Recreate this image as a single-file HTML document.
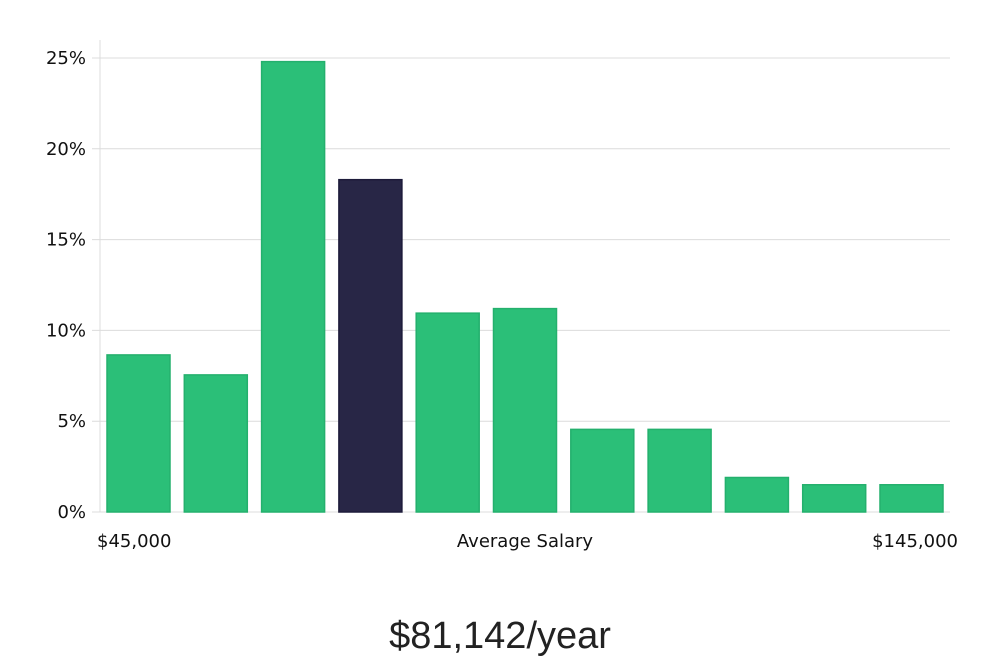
<!DOCTYPE html>
<html><head><meta charset="utf-8"><style>
body{margin:0;background:#fff;width:1000px;height:660px;overflow:hidden;font-family:"DejaVu Sans","Liberation Sans",sans-serif;}
</style></head><body>
<svg id="chart" width="1000" height="660" xmlns="http://www.w3.org/2000/svg"></svg>
<script>
const categories=["b1","b2","b3","b4","b5","b6","b7","b8","b9","b10","b11"];
const values=[8.65,7.55,24.8,18.3,10.95,11.2,4.55,4.55,1.9,1.5,1.5];
const highlight=[false,false,false,true,false,false,false,false,false,false,false];
const yTicks=[0,5,10,15,20,25];
const yTickLabels=["0%","5%","10%","15%","20%","25%"];
const xLabels=["$45,000","Average Salary","$145,000"];
const salaryText="$81,142/year";

const svg=document.getElementById('chart');
const NS="http://www.w3.org/2000/svg";
const y0=512, yTop=58, x0=100, x1=950;
function y(v){return y0-(v/25)*(y0-yTop);}
const bandStart=107, pitch=77.3, bw=63;
function x(i){return bandStart+i*pitch;}
function mk(t,a,txt){const e=document.createElementNS(NS,t);for(const k in a)e.setAttribute(k,a[k]);if(txt!==undefined)e.textContent=txt;svg.appendChild(e);return e;}

yTicks.forEach((t,i)=>{
  const g=mk('line',{x1:x0-8,x2:x1,y1:y(t),y2:y(t),stroke:'#dcdcdc','stroke-width':1});
  
  
  const l=mk('text',{x:86,y:y(t)+6,'text-anchor':'end','font-size':18,fill:'#111'},yTickLabels[i]);
  
  
});
const ax=mk('line',{x1:x0,x2:x0,y1:40,y2:y0,stroke:'#dcdcdc','stroke-width':1});



values.forEach((v,i)=>{
  const r=mk('rect',{x:x(i),y:y(v),width:bw,height:y0-y(v),fill:highlight[i]?'#282646':'#2bbf78',stroke:highlight[i]?'#1d1b3a':'#24b06d','stroke-width':1.5});
  
  
});

const xl=[[97,'start'],[525,'middle'],[958,'end']];
xLabels.forEach((s,i)=>{
  const t=mk('text',{x:xl[i][0],y:547,'text-anchor':xl[i][1],'font-size':18,fill:'#111'},s);
  
  
});
const big=mk('text',{x:500,y:648,'text-anchor':'middle','font-size':38,'font-weight':300,fill:'#222','font-family':'"Liberation Sans",sans-serif'},salaryText);


</script>
</body></html>
